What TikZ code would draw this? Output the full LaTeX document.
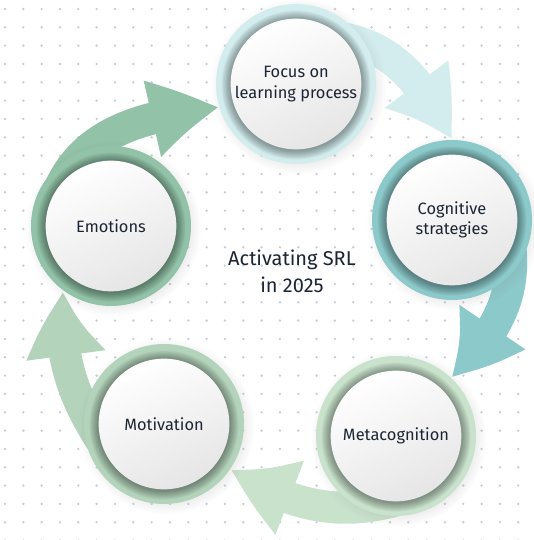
\documentclass[tikz,border=0pt]{standalone}
\usepackage{fontspec}
\setmainfont{Fira Sans}
\usetikzlibrary{arrows.meta,bending,shadows,backgrounds}

\definecolor{dotgray}{HTML}{C9CDD8}
\definecolor{txt}{HTML}{1C2533}
\definecolor{cEmo}{HTML}{92C2A8}
\definecolor{cFocus}{HTML}{D3EDEE}
\definecolor{cCog}{HTML}{8CC9CA}
\definecolor{cMeta}{HTML}{C8E2CC}
\definecolor{cMoti}{HTML}{B3D3BB}

\tikzset{
    % ring with a shaded white disc inside
    stage/.style={circle, inner sep=0pt, minimum size=120pt, fill=#1,
        text=txt, align=center, font=\fontsize{12.3}{15.5}\selectfont,
        circular drop shadow={shadow xshift=1.5pt, shadow yshift=-1.5pt, opacity=.15},
        path picture={
            \foreach \r in {56,55.5,...,49.5}
                \fill[black, opacity=.028] ([yshift=-.8pt]path picture bounding box.center) circle (\r pt);
            \shade[top color=white, bottom color=black!10, shading angle=25]
                (path picture bounding box.center) circle (49pt);
        }},
    % wide curved arrow between two rings
    flow/.style={line width=24pt, draw=#1,
        -{Triangle[width=54pt, length=52pt, bend]}}
}

\begin{document}
\begin{tikzpicture}[x=0.75pt, y=0.75pt]
\useasboundingbox (0,0) rectangle (534,540);

\node[stage=cFocus] (focus) at (296,456) {Focus on\\learning process};
\node[stage=cCog] (cog) at (452,320) {Cognitive\\strategies};
\node[stage=cMeta] (meta) at (396,104) {Metacognition};
\node[stage=cMoti] (moti) at (164,116) {Motivation};
\node[stage=cEmo] (emo) at (111,314) {Emotions};

\node[text=txt, align=center, font=\fontsize{15}{20}\selectfont] (title) at (292,269) {Activating SRL\\in 2025};

\begin{pgfonlayer}{background}
\fill[white] (0,0) rectangle (534,540);
% dot grid
\foreach \i in {0,...,29}
    \foreach \j in {0,...,29}
        \fill[dotgray] (5+18.33*\i, 531-18.33*\j) circle (1pt);

\draw[flow=cEmo] ([shift={(155:46pt)}]emo.center) to[out=72, in=186] (focus.197);
\draw[flow=cFocus] ([shift={(50:46pt)}]focus.center) to[out=-8, in=118] (cog.90);
\draw[flow=cCog] ([shift={(-20:46pt)}]cog.center) to[out=-82, in=43] (meta.47);
\draw[flow=cMeta] ([shift={(-75:46pt)}]meta.center) to[out=200, in=-32] (moti.-34);
\draw[flow=cMoti] ([shift={(215:46pt)}]moti.center) to[out=125, in=264] (emo.234);
\end{pgfonlayer}

\end{tikzpicture}
\end{document}
